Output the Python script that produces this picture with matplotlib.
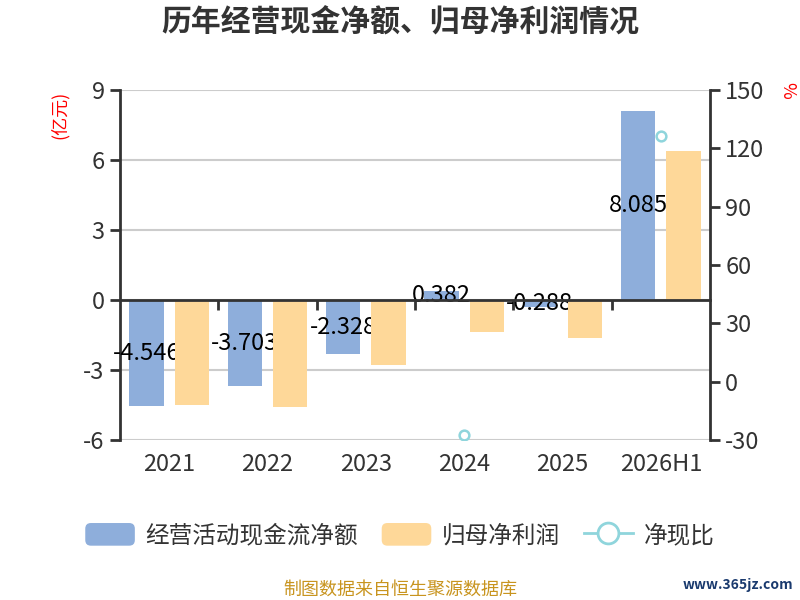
import numpy as np
import matplotlib
matplotlib.use("Agg")
import matplotlib.pyplot as plt
from matplotlib.patches import Patch, FancyBboxPatch
from matplotlib.lines import Line2D
from matplotlib.legend_handler import HandlerPatch

plt.rcParams['font.family'] = ['Noto Sans CJK SC', 'DejaVu Sans']
plt.rcParams['axes.unicode_minus'] = False

# ================= DATA =================
years = ['2021', '2022', '2023', '2024', '2025', '2026H1']
cash_flow = [-4.546, -3.703, -2.328, 0.382, -0.288, 8.085]
net_profit = [-4.50, -4.59, -2.78, -1.36, -1.61, 6.39]
cash_ratio = [np.nan, np.nan, np.nan, -27.4, np.nan, 126.3]

BLUE = '#8eaedb'
ORANGE = '#fed899'
CYAN = '#8fd5dc'
DARK = '#333333'


class RoundBox(HandlerPatch):
    def create_artists(self, legend, orig_handle, xdescent, ydescent,
                       width, height, fontsize, trans):
        p = FancyBboxPatch((-xdescent, -ydescent), width, height,
                           boxstyle="round,pad=0,rounding_size=%f" % (height * 0.25),
                           fc=orig_handle.get_facecolor(), ec='none',
                           transform=trans)
        return [p]


# ================= PLOT =================
fig = plt.figure(figsize=(8, 6), dpi=100)
ax = fig.add_axes([0.15, 0.2667, 0.7375, 0.5833])
ax2 = ax.twinx()

x = np.arange(len(years))
w = 0.35
ax.bar(x - 0.23, cash_flow, w, color=BLUE, zorder=2)
ax.bar(x + 0.23, net_profit, w, color=ORANGE, zorder=4)

# labels sit under the orange bars, like the original
for xi, v in zip(x, cash_flow):
    ax.text(xi - 0.23, v / 2, f'{v:.3f}', ha='center', va='center',
            fontsize=17, color='black', zorder=3, clip_on=False)

ax.set_xlim(-0.5, 5.5)
ax.set_ylim(-6, 9)
ax.set_yticks([-6, -3, 0, 3, 6, 9])
ax.yaxis.grid(True, color='#cccccc', lw=1.5, zorder=0)
ax.set_axisbelow(True)

ax.spines['top'].set_visible(False)
ax.spines['right'].set_visible(False)
ax.spines['bottom'].set_position(('data', 0))
ax.spines['bottom'].set_color(DARK)
ax.spines['bottom'].set_linewidth(2)
ax.spines['bottom'].set_zorder(5)
ax.spines['left'].set_color(DARK)
ax.spines['left'].set_linewidth(2)

ax.set_xticks(x[:-1] + 0.5)
ax.set_xticklabels([])
ax.tick_params(axis='x', length=7, width=2, color=DARK, direction='out')
ax.tick_params(axis='y', length=7, width=2, color=DARK, labelsize=17,
               labelcolor=DARK, pad=4)

for xi, lab in zip(x, years):
    ax.text(xi, -0.071, lab, transform=ax.get_xaxis_transform(),
            ha='center', va='center', fontsize=17, color=DARK)

ax2.plot(x, cash_ratio, color=CYAN, lw=2, marker='o', markersize=7,
         markerfacecolor='white', markeredgecolor=CYAN, markeredgewidth=1.8)
ax2.set_ylim(-30, 150)
ax2.set_yticks([-30, 0, 30, 60, 90, 120, 150])
for s in ['top', 'left', 'bottom']:
    ax2.spines[s].set_visible(False)
ax2.spines['right'].set_color(DARK)
ax2.spines['right'].set_linewidth(2)
ax2.tick_params(axis='y', length=7, width=2, color=DARK, labelsize=17,
                labelcolor=DARK, pad=4)

# axis units
fig.text(0.074, 0.808, '(亿元)', rotation=90, ha='center', va='center',
         fontsize=13, color='red')
fig.text(0.984, 0.85, '%', rotation=-90, ha='center', va='center',
         fontsize=13, color='red')

fig.text(0.5, 0.963, '历年经营现金净额、归母净利润情况', ha='center', va='center',
         fontsize=21.5, fontweight='bold', color=DARK)

handles = [Patch(facecolor=BLUE), Patch(facecolor=ORANGE),
           Line2D([], [], color=CYAN, lw=2, marker='o', markersize=15,
                  markerfacecolor='white', markeredgecolor=CYAN,
                  markeredgewidth=2)]
fig.legend(handles, ['经营活动现金流净额', '归母净利润', '净现比'],
           loc='center', bbox_to_anchor=(0.5, 0.108), ncol=3, frameon=False,
           fontsize=17, handlelength=2.1, handleheight=1.1,
           handletextpad=0.45, columnspacing=1.0, labelcolor=DARK,
           handler_map={Patch: RoundBox()})

fig.text(0.5, 0.017, '制图数据来自恒生聚源数据库', ha='center', va='center',
         fontsize=13, color='#c8941e')
fig.text(0.992, 0.025, 'www.365jz.com', ha='right', va='center',
         fontsize=10, fontweight='bold', color='#1a3a6e')

fig.savefig('out.png', dpi=100)
